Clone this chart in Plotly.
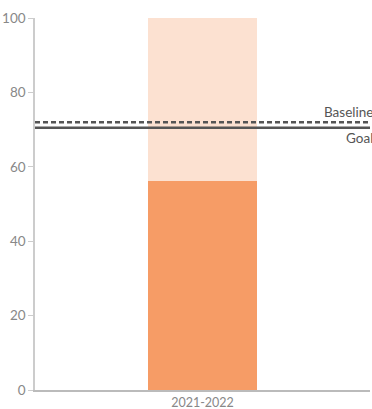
import plotly.graph_objects as go

# Single school year, rate shown against a 100% scale
years = ["2021-2022"]
rate = [56.2]
remainder = [100 - v for v in rate]
baseline = 72
goal = 70.5

fig = go.Figure()
fig.add_bar(x=years, y=rate, marker_color="#f69c66", width=0.325,
            marker_line_width=0, hoverinfo="skip")
fig.add_bar(x=years, y=remainder, marker_color="#fce1d1", width=0.325,
            marker_line_width=0, hoverinfo="skip")

fig.add_shape(type="line", xref="paper", yref="y", x0=0, x1=1, y0=baseline, y1=baseline,
              line=dict(color="#555555", width=2.5, dash="5px,3px"))
fig.add_shape(type="line", xref="paper", yref="y", x0=0, x1=1, y0=goal, y1=goal,
              line=dict(color="#555555", width=2.5))

fig.add_annotation(xref="paper", yref="y", x=1.015, y=baseline, text="Baseline",
                   showarrow=False, xanchor="right", yanchor="bottom", yshift=0,
                   font=dict(color="#555555", size=13.5))
fig.add_annotation(xref="paper", yref="y", x=1.015, y=goal, text="Goal",
                   showarrow=False, xanchor="right", yanchor="top", yshift=0,
                   font=dict(color="#555555", size=13.5))

fig.update_layout(
    barmode="stack",
    width=372, height=409,
    margin=dict(l=35, r=2, t=18, b=19),
    plot_bgcolor="white", paper_bgcolor="white",
    showlegend=False,
    font=dict(family="Lato, sans-serif", color="#888888", size=13),
    xaxis=dict(range=[-0.5, 0.5], showline=True, linecolor="#bbbbbb", linewidth=1.5,
               ticks="", showgrid=False, automargin=False,
               tickfont=dict(size=12.5, color="#888888")),
    yaxis=dict(range=[0, 100], tickvals=[0, 20, 40, 60, 80, 100], showline=True,
               linecolor="#cccccc", linewidth=1.5, ticks="outside", ticklen=5,
               tickcolor="#cccccc", showgrid=False, zeroline=False, automargin=False,
               tickfont=dict(size=13.5, color="#888888")),
)

fig.write_html("out.html")
